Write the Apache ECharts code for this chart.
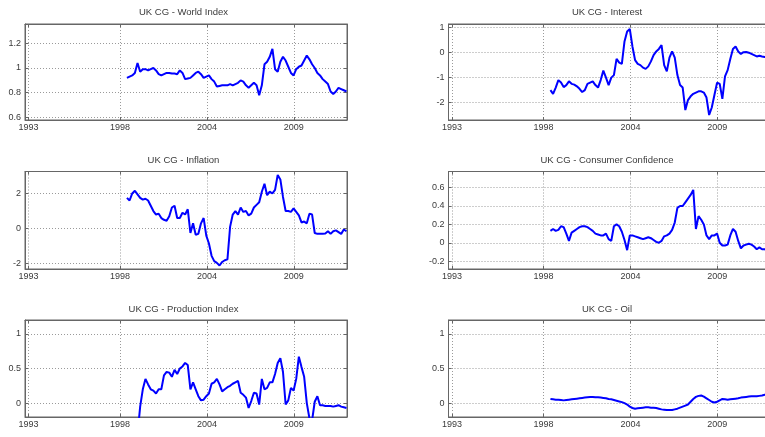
<!DOCTYPE html>
<html>
<head>
<meta charset="utf-8">
<script src="https://cdn.jsdelivr.net/npm/echarts@6/dist/echarts.min.js"></script>
<style>
  html, body { margin: 0; padding: 0; background: #ffffff; }
  #chart { width: 765px; height: 437px; }
</style>
</head>
<body>
<div id="chart"></div>
<script>
// Observation dates, every second month
const months = [
  '1999-02','1999-04','1999-06','1999-08','1999-10','1999-12',
  '2000-02','2000-04','2000-06','2000-08','2000-10','2000-12',
  '2001-02','2001-04','2001-06','2001-08','2001-10','2001-12',
  '2002-02','2002-04','2002-06','2002-08','2002-10','2002-12',
  '2003-02','2003-04','2003-06','2003-08','2003-10','2003-12',
  '2004-02','2004-04','2004-06','2004-08','2004-10','2004-12',
  '2005-02','2005-04','2005-06','2005-08','2005-10','2005-12',
  '2006-02','2006-04','2006-06','2006-08','2006-10','2006-12',
  '2007-02','2007-04','2007-06','2007-08','2007-10','2007-12',
  '2008-02','2008-04','2008-06','2008-08','2008-10','2008-12',
  '2009-02','2009-04','2009-06','2009-08','2009-10','2009-12',
  '2010-02','2010-04','2010-06','2010-08','2010-10','2010-12',
  '2011-02','2011-04','2011-06','2011-08','2011-10','2011-12',
  '2012-02','2012-04','2012-06','2012-08','2012-10','2012-12'
];

const worldIndex = [
  0.92, 0.93, 0.94, 0.96, 1.04, 0.97,
  0.99, 0.99, 0.98, 0.99, 1.00, 0.98,
  0.95, 0.94, 0.95, 0.96, 0.96, 0.955,
  0.955, 0.95, 0.98, 0.96, 0.91, 0.915,
  0.92, 0.94, 0.96, 0.97, 0.95, 0.92,
  0.93, 0.94, 0.91, 0.89, 0.85, 0.855,
  0.86, 0.86, 0.86, 0.87, 0.86, 0.87,
  0.88, 0.90, 0.89, 0.86, 0.84, 0.86,
  0.88, 0.86, 0.78, 0.86, 1.03, 1.05,
  1.09, 1.155, 0.99, 0.97, 1.05, 1.09,
  1.06, 1.01, 0.96, 0.94, 0.99, 1.01,
  1.02, 1.06, 1.10, 1.07, 1.03, 1.00,
  0.96, 0.94, 0.91, 0.89, 0.87, 0.81,
  0.79, 0.81, 0.84, 0.83, 0.82, 0.81
];

const interest = [
  -1.5, -1.65, -1.4, -1.1, -1.2, -1.38,
  -1.3, -1.15, -1.25, -1.28, -1.35, -1.45,
  -1.58, -1.5, -1.25, -1.2, -1.15, -1.3,
  -1.4, -1.1, -0.72, -1.0, -1.3, -1.0,
  -0.9, -0.25, -0.4, -0.45, 0.45, 0.85,
  0.95, 0.25, -0.3, -0.45, -0.5, -0.6,
  -0.65, -0.55, -0.35, -0.1, 0.05, 0.15,
  0.3, -0.5, -0.75, -0.2, 0.05, -0.2,
  -0.9, -1.3, -1.4, -2.3, -1.9, -1.75,
  -1.65, -1.6, -1.55, -1.55, -1.6, -1.8,
  -2.5, -2.2, -1.7, -1.2, -1.25, -1.85,
  -0.95, -0.7, -0.25, 0.15, 0.25, 0.05,
  -0.05, 0.02, 0.03, 0.0, -0.05, -0.1,
  -0.15, -0.12, -0.15, -0.17, -0.18, -0.2
];

const inflation = [
  1.75, 1.6, 2.0, 2.15, 1.95, 1.75,
  1.65, 1.7, 1.6, 1.3, 1.0, 0.8,
  0.85, 0.6, 0.5, 0.45, 0.7, 1.2,
  1.3, 0.6, 0.6, 0.9, 0.8, 1.1,
  -0.25, 0.3, -0.35, -0.3, 0.3, 0.6,
  -0.4, -0.85, -1.55, -1.85, -1.95, -2.1,
  -1.9, -1.8, -1.75, 0.1, 0.8, 1.0,
  0.8, 1.2, 0.95, 1.0, 0.75, 0.85,
  1.2, 1.35, 1.5, 2.1, 2.55, 1.9,
  2.1, 2.0, 2.2, 3.05, 2.8, 1.8,
  1.0, 1.0, 0.95, 1.15, 0.95, 0.75,
  0.35, 0.4, 0.3, 0.85, 0.8, -0.25,
  -0.3, -0.3, -0.3, -0.28, -0.15, -0.3,
  -0.15, -0.1, -0.2, -0.3, -0.05, -0.15
];

const consumerConfidence = [
  0.13, 0.15, 0.13, 0.14, 0.18, 0.17,
  0.10, 0.02, 0.11, 0.13, 0.15, 0.17,
  0.18, 0.18, 0.17, 0.15, 0.13, 0.10,
  0.09, 0.08, 0.08, 0.10, 0.04, 0.02,
  0.18, 0.20, 0.18, 0.12, 0.03, -0.08,
  0.08, 0.08, 0.07, 0.06, 0.05, 0.04,
  0.05, 0.06, 0.05, 0.03, 0.01, 0.00,
  0.02, 0.07, 0.08, 0.10, 0.14, 0.22,
  0.38, 0.40, 0.40, 0.44, 0.48, 0.52,
  0.575, 0.15, 0.29, 0.25, 0.20, 0.08,
  0.04, 0.08, 0.08, 0.10, 0.00, -0.03,
  -0.03, -0.02, 0.08, 0.15, 0.12, 0.02,
  -0.06, -0.03, -0.02, -0.01, -0.02, -0.04,
  -0.07, -0.05, -0.07, -0.07, -0.08, -0.08
];

const productionIndex = [
  null, null, null, null, -0.45, -0.05,
  0.2, 0.35, 0.27, 0.2, 0.18, 0.14,
  0.2, 0.2, 0.4, 0.45, 0.44, 0.38,
  0.48, 0.42, 0.5, 0.53, 0.58, 0.55,
  0.2, 0.3, 0.2, 0.1, 0.04, 0.05,
  0.1, 0.14, 0.28, 0.3, 0.35, 0.27,
  0.17, 0.2, 0.23, 0.25, 0.28, 0.3,
  0.32, 0.15, 0.12, 0.08, -0.07, 0.03,
  0.15, 0.14, -0.02, 0.35, 0.2, 0.22,
  0.3, 0.3, 0.42, 0.58, 0.65, 0.45,
  -0.02, 0.04, 0.22, 0.18, 0.35, 0.67,
  0.52, 0.38, 0.0, -0.22, -0.25, 0.02,
  0.1, -0.03, -0.03, -0.04, -0.04, -0.04,
  -0.05, -0.04, -0.03, -0.05, -0.06, -0.07
];

const oil = [
  0.06, 0.055, 0.05, 0.05, 0.045, 0.04,
  0.045, 0.05, 0.055, 0.06, 0.065, 0.07,
  0.075, 0.08, 0.085, 0.09, 0.09, 0.085,
  0.085, 0.08, 0.075, 0.07, 0.06, 0.055,
  0.045, 0.035, 0.025, 0.015, 0.0, -0.02,
  -0.05, -0.07, -0.08, -0.075, -0.07, -0.065,
  -0.06, -0.06, -0.065, -0.065, -0.07, -0.08,
  -0.09, -0.095, -0.1, -0.1, -0.1, -0.09,
  -0.08, -0.065, -0.05, -0.035, -0.02, 0.02,
  0.06, 0.09, 0.105, 0.11, 0.095, 0.07,
  0.045, 0.02, 0.01, 0.02, 0.04, 0.06,
  0.055, 0.05, 0.055, 0.06, 0.065, 0.07,
  0.08, 0.085, 0.09, 0.095, 0.1, 0.1,
  0.1, 0.105, 0.11, 0.12, 0.12, 0.12
];

// Date axis: tick positions (decimal years) and their labels
const xTickValues = [1992.88, 1998.65, 2004.13, 2009.6];
const xTickLabels = ['1993', '1998', '2004', '2009'];
const xRange = [1992.66, 2012.95];

const titles = [
  'UK CG - World Index', 'UK CG - Interest',
  'UK CG - Inflation', 'UK CG - Consumer Confidence',
  'UK CG - Production Index', 'UK CG - Oil'
];
const seriesValues = [worldIndex, interest, inflation, consumerConfidence, productionIndex, oil];
const yRanges = [[0.58, 1.355], [-2.7, 1.15], [-2.3, 3.25], [-0.285, 0.775], [-0.2, 1.2], [-0.2, 1.2]];
const yTicks = [
  [0.6, 0.8, 1, 1.2],
  [-2, -1, 0, 1],
  [-2, 0, 2],
  [-0.2, 0, 0.2, 0.4, 0.6],
  [0, 0.5, 1],
  [0, 0.5, 1]
];

// ---- layout ----
const colLeft = [25, 448.5];
const plotWidth = 322;
const rowTop = [24, 171.5, 320];
const rowHeight = [96, 97.5, 97];
const titleX = [183.5, 607];
const titleY = [12.5, 160, 309];

const FONT = '"Liberation Sans", Arial, Helvetica, sans-serif';
const axisColor = '#666666';
const textColor = '#3a3a3a';
const gridLineStyle = { color: '#9a9a9a', width: 1, type: [1, 2] };

function toYear(s) {
  const [y, m] = s.split('-').map(Number);
  return y + (m - 1) / 12;
}
const xs = months.map(toYear);

function xLabel(v) {
  let best = 0;
  for (let i = 1; i < xTickValues.length; i++) {
    if (Math.abs(xTickValues[i] - v) < Math.abs(xTickValues[best] - v)) best = i;
  }
  return xTickLabels[best];
}

const grid = [], xAxis = [], yAxis = [], series = [], graphic = [];

for (let i = 0; i < 6; i++) {
  const col = i % 2, row = Math.floor(i / 2);
  grid.push({
    left: colLeft[col], top: rowTop[row], width: plotWidth, height: rowHeight[row],
    containLabel: false, outerBoundsMode: 'none',
    show: true, borderColor: axisColor, borderWidth: 1, backgroundColor: '#ffffff'
  });

  const common = {
    gridIndex: i, type: 'value',
    axisLine: { show: true, onZero: false, lineStyle: { color: axisColor, width: 1 } }
  };

  // bottom date axis with labels
  xAxis.push(Object.assign({}, common, {
    position: 'bottom', min: xRange[0], max: xRange[1],
    axisTick: { show: true, inside: true, length: 3, customValues: xTickValues,
                lineStyle: { color: axisColor } },
    axisLabel: { show: true, customValues: xTickValues, formatter: xLabel, margin: 3,
                 fontSize: 9, color: textColor, fontFamily: FONT },
    splitLine: { show: true, lineStyle: gridLineStyle }
  }));
  // top axis: ticks only
  xAxis.push(Object.assign({}, common, {
    position: 'top', min: xRange[0], max: xRange[1],
    axisTick: { show: true, inside: true, length: 3, customValues: xTickValues,
                lineStyle: { color: axisColor } },
    axisLabel: { show: false },
    splitLine: { show: false }
  }));

  yAxis.push(Object.assign({}, common, {
    position: 'left', min: yRanges[i][0], max: yRanges[i][1],
    axisTick: { show: true, inside: true, length: 3, customValues: yTicks[i],
                lineStyle: { color: axisColor } },
    axisLabel: { show: true, customValues: yTicks[i], margin: 4,
                 fontSize: 9, color: textColor, fontFamily: FONT },
    splitLine: { show: true, lineStyle: gridLineStyle }
  }));
  yAxis.push(Object.assign({}, common, {
    position: 'right', min: yRanges[i][0], max: yRanges[i][1],
    axisTick: { show: true, inside: true, length: 3, customValues: yTicks[i],
                lineStyle: { color: axisColor } },
    axisLabel: { show: false },
    splitLine: { show: false }
  }));

  series.push({
    type: 'line',
    xAxisIndex: 2 * i, yAxisIndex: 2 * i,
    data: xs.map((x, k) => [x, seriesValues[i][k]]),
    showSymbol: false, symbol: 'none',
    connectNulls: false, clip: true,
    lineStyle: { color: '#0000ff', width: 2 },
    animation: false
  });

  graphic.push({
    type: 'text', x: titleX[col], y: titleY[row],
    style: { text: titles[i], align: 'center', verticalAlign: 'middle',
             fontSize: 9.5, fontFamily: FONT, fill: textColor }
  });
}

const chart = echarts.init(document.getElementById('chart'), null, { renderer: 'canvas' });
chart.setOption({
  backgroundColor: '#ffffff',
  animation: false,
  grid, xAxis, yAxis, series, graphic
});
</script>
</body>
</html>
